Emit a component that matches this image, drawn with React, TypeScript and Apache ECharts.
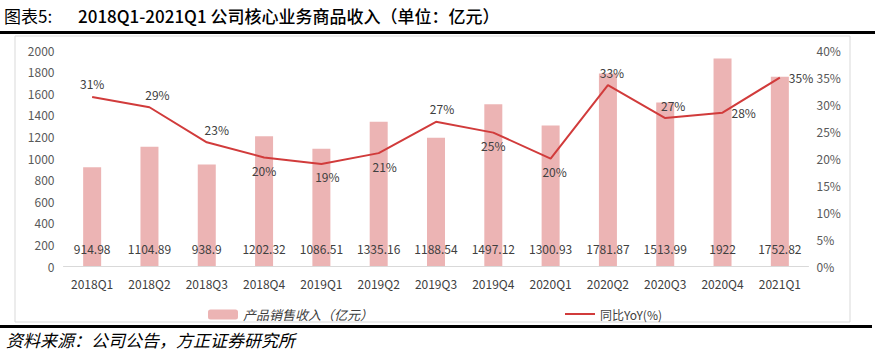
import React, { useEffect, useRef } from "react";
import * as echarts from "echarts";

const categories = ["2018Q1", "2018Q2", "2018Q3", "2018Q4", "2019Q1", "2019Q2", "2019Q3", "2019Q4", "2020Q1", "2020Q2", "2020Q3", "2020Q4", "2021Q1"];
const revenue = [914.98, 1104.89, 938.9, 1202.32, 1086.51, 1335.16, 1188.54, 1497.12, 1300.93, 1781.87, 1513.99, 1922, 1752.82];
const yoy = [31.3, 29.4, 22.9, 20.1, 18.9, 20.9, 26.7, 24.7, 19.9, 33.5, 27.4, 28.4, 34.9];
const yoyLabels = ["31%", "29%", "23%", "20%", "19%", "21%", "27%", "25%", "20%", "33%", "27%", "28%", "35%"];
const yoyLabelPos = ["top", "top", "top", "bottom", "bottom", "bottom", "top", "bottom", "bottom", "top", "top", "right", "right"];
const yoyLabelOffset = [[0, 0], [8, 0], [10, 0], [0, 0], [6, 0], [6, 0], [6, 0], [0, 0], [4, 0], [4, 0], [8, 0], [2, 0], [2, 0]];

export default function App() {
  const ref = useRef<HTMLDivElement>(null);
  useEffect(() => {
    const chart = echarts.init(ref.current!, null, { renderer: "svg" });
    const fontFamily = "'Noto Sans CJK SC', 'Noto Sans', sans-serif";
    chart.setOption({
      animation: false,
      textStyle: { fontFamily },
      graphic: [
        { type: "rect", shape: { x: 15, y: 36, width: 835, height: 286 }, style: { fill: "none", stroke: "#d9d9d9", lineWidth: 1 } },
        { type: "rect", shape: { x: 0, y: 31, width: 875, height: 3 }, style: { fill: "#000" } },
        { type: "rect", shape: { x: 0, y: 325, width: 872, height: 3 }, style: { fill: "#000" } },
        {
          type: "text", x: 4, y: 7,
          style: { text: "图表5:", fontSize: 17, fill: "#000", fontFamily },
        },
        {
          type: "text", x: 78, y: 7,
          style: { text: "2018Q1-2021Q1 公司核心业务商品收入（单位：亿元）", fontSize: 17, fontWeight: 500, fill: "#000", fontFamily },
        },
        {
          type: "text", x: 6, y: 331,
          style: { text: "资料来源：公司公告，方正证券研究所", fontSize: 17, fontStyle: "italic", fill: "#000", fontFamily },
        },
      ],
      legend: [
        {
          data: ["产品销售收入（亿元）"], left: 203, top: 303, itemWidth: 30, itemHeight: 10, itemGap: 10,
          textStyle: { fontSize: 13, color: "#404040", fontStyle: "italic" },
        },
        {
          data: [{ name: "同比YoY(%)", icon: "rect" }], left: 560, top: 303, itemWidth: 30, itemHeight: 2,
          textStyle: { fontSize: 12, color: "#404040" },
        },
      ],
      grid: { left: 63.5, right: 66.5, top: 50, bottom: 89 },
      xAxis: {
        type: "category", data: categories,
        axisLine: { lineStyle: { color: "#d9d9d9" } },
        axisTick: { show: false },
        axisLabel: { color: "#404040", fontSize: 12, margin: 11 },
      },
      yAxis: [
        {
          type: "value", min: 0, max: 2000, interval: 200,
          splitLine: { show: false },
          axisLabel: { color: "#595959", fontSize: 12, margin: 9, formatter: (v: number) => String(v) },
        },
        {
          type: "value", min: 0, max: 40, interval: 5,
          splitLine: { show: false },
          axisLabel: { color: "#595959", fontSize: 12, margin: 8, formatter: "{value}%" },
        },
      ],
      series: [
        {
          name: "产品销售收入（亿元）", type: "bar", data: revenue, barWidth: 18,
          itemStyle: { color: "#ecb4b4" },
          label: { show: true, position: "insideBottom", distance: 12, color: "#404040", fontSize: 12 },
        },
        {
          name: "同比YoY(%)", type: "line", yAxisIndex: 1, symbol: "circle", symbolSize: 0, showSymbol: true,
          lineStyle: { color: "#d13b3b", width: 2 },
          itemStyle: { color: "#d13b3b" },
          label: { show: true, color: "#404040", fontSize: 12 },
          data: yoy.map((v, i) => ({
            value: v,
            label: {
              show: true, position: yoyLabelPos[i], offset: yoyLabelOffset[i], distance: 7,
              formatter: yoyLabels[i], color: "#404040", fontSize: 12,
            },
          })),
        },
      ],
    });
    return () => chart.dispose();
  }, []);
  return <div ref={ref} style={{ position: "fixed", left: 0, top: 0, width: 875, height: 355, background: "#fff" }} />;
}
